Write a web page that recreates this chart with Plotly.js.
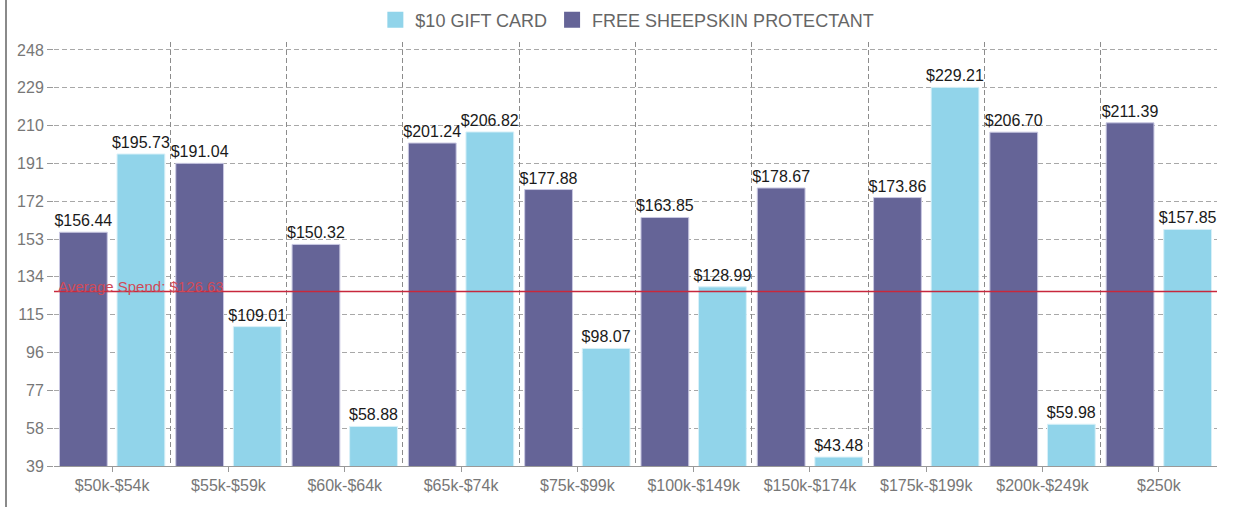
<!DOCTYPE html>
<html>
<head>
<meta charset="utf-8">
<script src="https://cdn.plot.ly/plotly-3.0.1.min.js"></script>
<style>
  html, body { margin: 0; padding: 0; background: #fff; }
  #wrap { position: relative; width: 1253px; height: 507px; }
  #chart { width: 1253px; height: 507px; }
  #edge { position: absolute; left: 5px; top: 0; width: 2px; height: 507px; background: #8a8a8a; }
</style>
</head>
<body>
<div id="wrap">
  <div id="chart"></div>
  <div id="edge"></div>
</div>
<script>
const categories = ["$50k-$54k", "$55k-$59k", "$60k-$64k", "$65k-$74k", "$75k-$99k",
                    "$100k-$149k", "$150k-$174k", "$175k-$199k", "$200k-$249k", "$250k"];
const sheepskinValues = [156.44, 191.04, 150.32, 201.24, 177.88, 163.85, 178.67, 173.86, 206.70, 211.39];
const giftCardValues  = [195.73, 109.01, 58.88, 206.82, 98.07, 128.99, 43.48, 229.21, 59.98, 157.85];
const seriesNames = ["$10 GIFT CARD", "FREE SHEEPSKIN PROTECTANT"];
const avgSpend = 126.63;
const avgLabel = "Average Spend: $126.63";
const yTick0 = 39, yDtick = 19, yMax = 252;

const FONT = "Liberation Sans, Arial, Helvetica, sans-serif";
const BLUE = "#91d4ea";
const PURPLE = "#656497";

const boundaryVals = categories.map((_, i) => i - 0.5).concat([categories.length - 0.5]);

const traces = [
  {
    type: "bar", x: categories, y: sheepskinValues, name: seriesNames[1],
    marker: { color: PURPLE, line: { color: "#c9c8e2", width: 1 } },
    texttemplate: "$%{y:.2f}", textposition: "outside", constraintext: "none",
    cliponaxis: false, textfont: { family: FONT, size: 16, color: "#1a1a1a" },
    showlegend: false, hoverinfo: "x+y"
  },
  {
    type: "bar", x: categories, y: giftCardValues, name: seriesNames[0],
    marker: { color: BLUE, line: { color: "#d8f0f8", width: 1 } },
    texttemplate: "$%{y:.2f}", textposition: "outside", constraintext: "none",
    cliponaxis: false, textfont: { family: FONT, size: 16, color: "#1a1a1a" },
    showlegend: false, hoverinfo: "x+y"
  },
  // legend entries
  { type: "scatter", mode: "markers", x: [null], y: [null], name: seriesNames[0],
    marker: { symbol: "square", size: 18, color: BLUE } },
  { type: "scatter", mode: "markers", x: [null], y: [null], name: seriesNames[1],
    marker: { symbol: "square", size: 18, color: PURPLE } },
  // carrier for the boundary grid axis
  { type: "scatter", mode: "markers", x: [], y: [], xaxis: "x2", showlegend: false, hoverinfo: "skip" }
];

const layout = {
  width: 1253, height: 507,
  margin: { l: 54, r: 36, t: 42, b: 41, pad: 0, autoexpand: false },
  paper_bgcolor: "#fff", plot_bgcolor: "#fff",
  font: { family: FONT, size: 16, color: "#666" },
  barmode: "group", bargap: 0.01, bargroupgap: 0.17,
  showlegend: true,
  legend: {
    orientation: "h", x: 0.493, xanchor: "center", y: 1.052, yanchor: "middle",
    font: { family: FONT, size: 18, color: "#666" }, itemclick: false
  },
  xaxis: {
    type: "category", showgrid: false, zeroline: false,
    showline: true, linecolor: "#999", linewidth: 1,
    ticks: "outside", ticklen: 5, tickcolor: "#999",
    tickfont: { family: FONT, size: 16, color: "#777" }
  },
  xaxis2: {
    overlaying: "x", anchor: "y", type: "linear",
    range: [-0.5, categories.length - 0.5],
    tickmode: "array", tickvals: boundaryVals,
    showticklabels: false, ticks: "", zeroline: false, showline: false,
    showgrid: true, gridcolor: "#8c8c8c", gridwidth: 1, griddash: "5px,3px"
  },
  yaxis: {
    range: [yTick0, yMax], tickmode: "linear", tick0: yTick0, dtick: yDtick,
    showgrid: true, gridcolor: "#a8a8a8", gridwidth: 1, griddash: "5px,3px",
    zeroline: false, showline: false,
    ticks: "outside", ticklen: 6, tickcolor: "#999",
    tickfont: { family: FONT, size: 16, color: "#777" }
  },
  shapes: [
    { type: "line", xref: "paper", x0: 0, x1: 1, yref: "y", y0: avgSpend, y1: avgSpend,
      line: { color: "#c8283c", width: 1.5 } }
  ],
  annotations: [
    { xref: "paper", x: 0, xanchor: "left", yref: "y", y: avgSpend, yanchor: "bottom",
      yshift: -4, xshift: 3, text: avgLabel, showarrow: false, borderpad: 0,
      font: { family: FONT, size: 15, color: "#d04a58" } }
  ]
};

Plotly.newPlot("chart", traces, layout, { displayModeBar: false, staticPlot: true });
</script>
</body>
</html>
